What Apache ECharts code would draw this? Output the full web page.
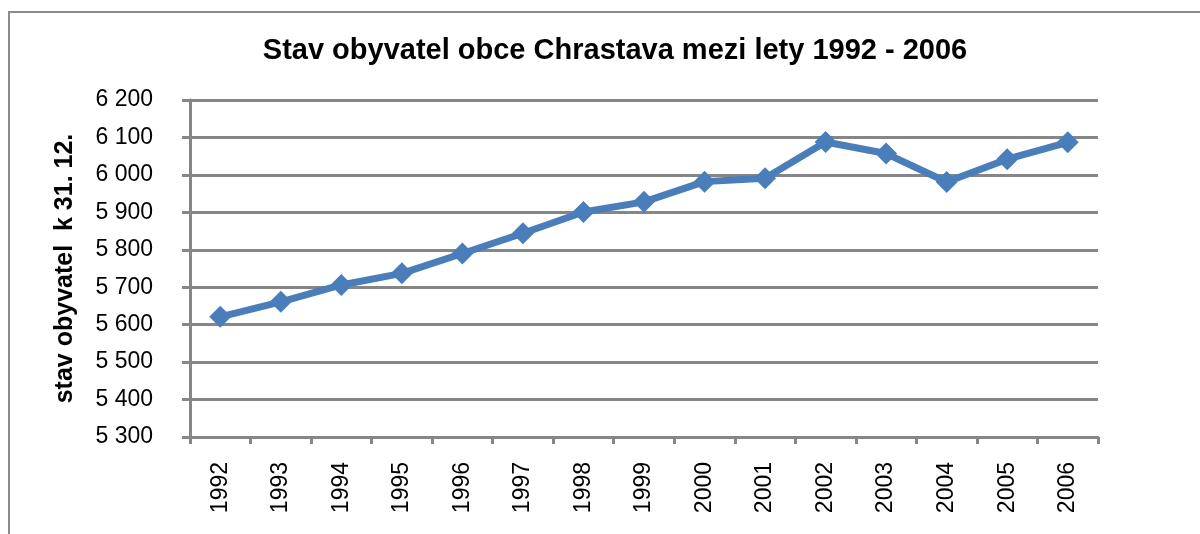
<!DOCTYPE html>
<html>
<head>
<meta charset="utf-8">
<script src="https://cdn.jsdelivr.net/npm/echarts@6/dist/echarts.min.js"></script>
<style>
  html, body { margin: 0; padding: 0; background: #fff; }
  #chart { width: 1200px; height: 534px; }
</style>
</head>
<body>
<div id="chart"></div>
<script>
// data
const years = ["1992", "1993", "1994", "1995", "1996", "1997", "1998", "1999",
  "2000", "2001", "2002", "2003", "2004", "2005", "2006"];
const population = [5621, 5661, 5706, 5737, 5790, 5844, 5901, 5928,
  5982, 5991, 6088, 6057, 5981, 6042, 6087];
const yMin = 5300;
const yMax = 6200;
const yStep = 100;

const titleText = "Stav obyvatel obce Chrastava mezi lety 1992 - 2006";
const yName = "stav obyvatel  k 31. 12.";

const font = "Liberation Sans, Arial, sans-serif";
const gray = "#868686";

let myChart = echarts.init(document.getElementById("chart"));

let option = {
  backgroundColor: "#fff",
  animation: false,
  title: {
    text: titleText,
    left: 610,
    textAlign: "center",
    top: 31,
    textStyle: { fontFamily: font, fontSize: 29, fontWeight: "bold", color: "#000" }
  },
  graphic: [{
    type: "rect",
    shape: { x: 9, y: 12, width: 1300, height: 700 },
    style: { fill: "none", stroke: "#8c8c8c", lineWidth: 2 },
    silent: true
  }],
  grid: { left: 190, right: 102, top: 100, bottom: 97 },
  xAxis: {
    type: "category",
    data: years,
    boundaryGap: true,
    axisLine: { lineStyle: { color: gray, width: 3 } },
    axisTick: { show: true, length: 7, alignWithLabel: false, lineStyle: { color: gray, width: 3 } },
    axisLabel: {
      rotate: 90,
      margin: 25,
      fontFamily: font,
      fontSize: 23,
      color: "#000"
    }
  },
  yAxis: {
    type: "value",
    min: yMin,
    max: yMax,
    interval: yStep,
    name: yName,
    nameLocation: "middle",
    nameGap: 112,
    nameRotate: 90,
    nameTextStyle: { fontFamily: font, fontSize: 25, fontWeight: "bold", color: "#000" },
    axisLine: { show: true, lineStyle: { color: gray, width: 3 } },
    axisTick: { show: true, length: 8, lineStyle: { color: gray, width: 3 } },
    splitLine: { show: true, lineStyle: { color: gray, width: 3 } },
    axisLabel: {
      margin: 37,
      fontFamily: font,
      fontSize: 23,
      color: "#000",
      formatter: function (v) {
        return String(v).replace(/\B(?=(\d{3})+(?!\d))/g, " ");
      }
    }
  },
  series: [{
    type: "line",
    data: population,
    lineStyle: { color: "#4a7ebb", width: 7 },
    itemStyle: { color: "#4a7ebb" },
    symbol: "diamond",
    symbolSize: 22,
    z: 5
  }]
};

myChart.setOption(option);
</script>
</body>
</html>
